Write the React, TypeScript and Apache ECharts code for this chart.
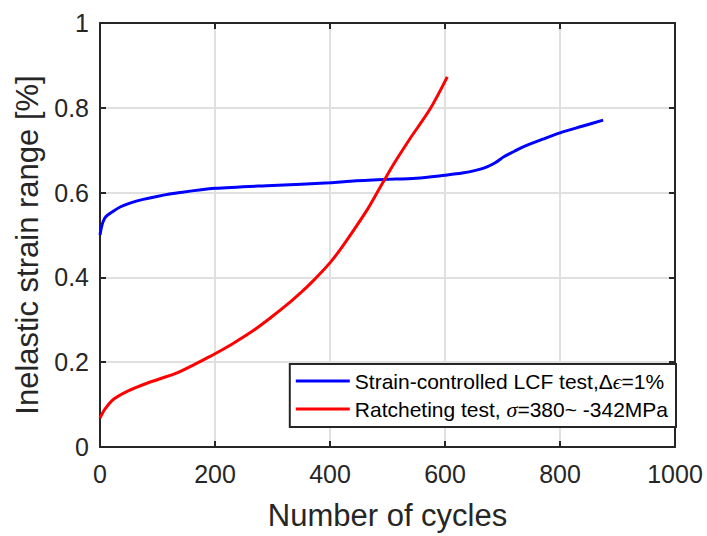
import React, { useEffect, useRef } from "react";
import * as echarts from "echarts";

const xTicks = [0, 200, 400, 600, 800, 1000];
const yTicks = [0, 0.2, 0.4, 0.6, 0.8, 1];

const lcfName = "Strain-controlled LCF test,Δϵ=1%";
const ratName = "Ratcheting test, σ=380~ -342MPa";

const lcfCycles = [0, 2, 5, 10, 23, 35, 52, 75, 99, 139, 200, 300, 400, 435, 492, 550, 600, 630, 655, 672, 688, 703, 720, 736, 770, 800, 840, 875];
const lcfStrain = [0.5, 0.515, 0.53, 0.543, 0.556, 0.566, 0.575, 0.584, 0.591, 0.6, 0.61, 0.617, 0.623, 0.627, 0.631, 0.634, 0.641, 0.646, 0.653, 0.66, 0.671, 0.685, 0.697, 0.708, 0.726, 0.741, 0.757, 0.771];

const ratCycles = [0, 8, 23, 50, 81, 139, 200, 230, 266, 295, 330, 350, 365, 385, 401, 418, 435, 464, 487, 499, 513, 539, 574, 604];
const ratStrain = [0.068, 0.088, 0.112, 0.133, 0.15, 0.178, 0.22, 0.243, 0.274, 0.303, 0.341, 0.365, 0.384, 0.412, 0.436, 0.466, 0.499, 0.558, 0.612, 0.64, 0.672, 0.727, 0.797, 0.873];

const FONT = "'Liberation Sans', Arial, sans-serif";
const AX = "#262626";
const GRID = "#e0e0e0";

export default function App() {
  const ref = useRef<HTMLDivElement>(null);
  useEffect(() => {
    if (!ref.current) return;
    const chart = echarts.init(ref.current, undefined, { renderer: "svg" });
    const lcf = lcfCycles.map((c, i) => [c, lcfStrain[i]]);
    const rat = ratCycles.map((c, i) => [c, ratStrain[i]]);
    const common = {
      type: "value" as const,
      axisLine: { show: true, onZero: false, lineStyle: { color: AX, width: 2 } },
      axisTick: { show: true, inside: true, length: 6, lineStyle: { color: AX, width: 2 } },
    };
    chart.setOption({
      animation: false,
      backgroundColor: "#fff",
      grid: { left: 100, right: 32, top: 23, bottom: 85, containLabel: false },
      xAxis: [
        {
          ...common,
          min: xTicks[0],
          max: xTicks[xTicks.length - 1],
          interval: 200,
          position: "bottom",
          name: "Number of cycles",
          nameLocation: "middle",
          nameGap: 53,
          nameTextStyle: { fontFamily: FONT, fontSize: 31, color: AX },
          axisLabel: { fontFamily: FONT, fontSize: 25, color: AX, margin: 14, formatter: (v: number) => String(v) },
          splitLine: { show: true, lineStyle: { color: GRID, width: 2 } },
        },
        {
          ...common,
          min: xTicks[0],
          max: xTicks[xTicks.length - 1],
          interval: 200,
          position: "top",
          axisLabel: { show: false },
          splitLine: { show: false },
        },
      ],
      yAxis: [
        {
          ...common,
          min: yTicks[0],
          max: yTicks[yTicks.length - 1],
          interval: 0.2,
          position: "left",
          name: "Inelastic strain range [%]",
          nameLocation: "middle",
          nameGap: 55,
          nameTextStyle: { fontFamily: FONT, fontSize: 31, color: AX, padding: [0, 20, 0, 0] },
          axisLabel: {
            fontFamily: FONT,
            fontSize: 25,
            color: AX,
            margin: 11,
            formatter: (v: number) => String(Math.round(v * 10) / 10),
          },
          splitLine: { show: true, lineStyle: { color: GRID, width: 2 } },
        },
        {
          ...common,
          min: yTicks[0],
          max: yTicks[yTicks.length - 1],
          interval: 0.2,
          position: "right",
          axisLabel: { show: false },
          splitLine: { show: false },
        },
      ],
      legend: {
        orient: "vertical",
        right: 31,
        top: 364,
        padding: [5, 8, 6, 6],
        itemGap: 4,
        itemWidth: 54,
        itemHeight: 3,
        icon: "rect",
        backgroundColor: "#fff",
        borderColor: AX,
        borderWidth: 2,
        borderRadius: 0,
        data: [lcfName, ratName],
        textStyle: {
          fontFamily: FONT,
          fontSize: 21,
          color: "#000",
          lineHeight: 24,
          rich: {
            it: { fontFamily: "'Liberation Serif', serif", fontStyle: "italic", fontSize: 22, color: "#000", lineHeight: 24 },
            n: { fontFamily: FONT, fontSize: 21, color: "#000", lineHeight: 24 },
          },
        },
        formatter: (name: string) => {
          if (name === lcfName) return "{n|Strain-controlled LCF test,Δ}{it|ϵ}{n|=1%}";
          return "{n|Ratcheting test, }{it|σ}{n|=380~ -342MPa}";
        },
      },
      series: [
        {
          name: lcfName,
          type: "line",
          data: lcf,
          showSymbol: false,
          symbol: "none",
          smooth: 0.3,
          lineStyle: { color: "#0000ff", width: 3 },
          itemStyle: { color: "#0000ff" },
          z: 3,
        },
        {
          name: ratName,
          type: "line",
          data: rat,
          showSymbol: false,
          symbol: "none",
          smooth: 0.3,
          lineStyle: { color: "#ff0000", width: 3 },
          itemStyle: { color: "#ff0000" },
          z: 4,
        },
      ],
    });
    return () => chart.dispose();
  }, []);
  return <div ref={ref} style={{ width: 707, height: 536, position: "absolute", left: 0, top: 0 }} />;
}
